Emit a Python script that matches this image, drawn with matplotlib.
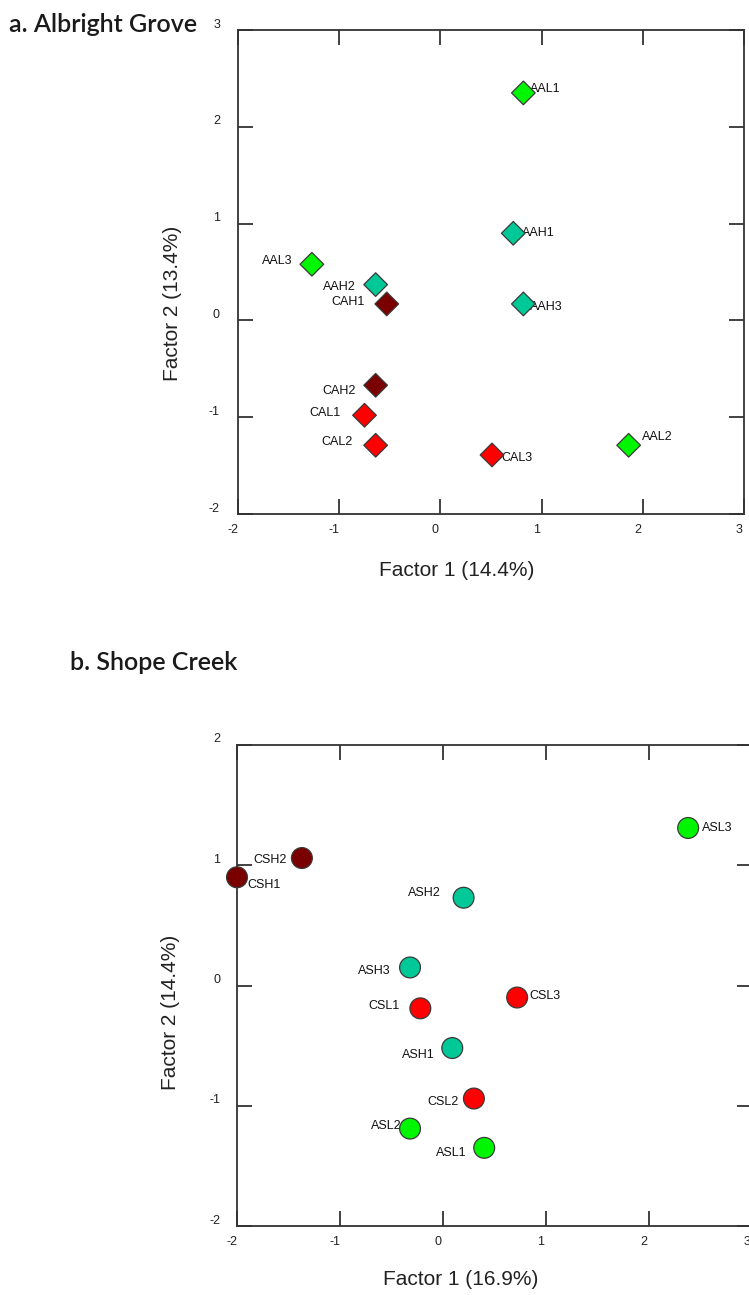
import matplotlib
matplotlib.use("Agg")
import matplotlib.pyplot as plt
import matplotlib.transforms as mtransforms

plt.rcParams["font.family"] = ["Liberation Sans", "DejaVu Sans"]

W, H, DPI = 749, 1295, 100

# ---- Panel a: Albright Grove (factor scores) ----
ag_names = ["AAL1", "AAH1", "AAL3", "AAH2", "CAH1", "AAH3",
            "CAH2", "CAL1", "CAL2", "CAL3", "AAL2"]
ag_f1 = [0.82, 0.72, -1.27, -0.64, -0.53, 0.82, -0.64, -0.75, -0.64, 0.51, 1.86]
ag_f2 = [2.35, 0.90, 0.58, 0.37, 0.17, 0.17, -0.67, -0.98, -1.29, -1.39, -1.29]
ag_group = ["AL", "AH", "AL", "AH", "CH", "AH", "CH", "CL", "CL", "CL", "AL"]

# ---- Panel b: Shope Creek (factor scores) ----
sc_names = ["ASL3", "CSH2", "CSH1", "ASH2", "ASH3", "CSL1",
            "CSL3", "ASH1", "CSL2", "ASL2", "ASL1"]
sc_f1 = [2.38, -1.37, -2.00, 0.20, -0.32, -0.22, 0.72, 0.09, 0.30, -0.32, 0.40]
sc_f2 = [1.31, 1.06, 0.90, 0.73, 0.15, -0.19, -0.10, -0.52, -0.94, -1.19, -1.35]
sc_group = ["AL", "CH", "CH", "AH", "AH", "CL", "CL", "AH", "CL", "AL", "AL"]

tick_vals_x = [-2, -1, 0, 1, 2, 3]
ag_ticks_y = [-2, -1, 0, 1, 2, 3]
sc_ticks_y = [-2, -1, 0, 1, 2]

group_colors = {"AL": "#00F500", "AH": "#00C896", "CH": "#7A0000", "CL": "#FF0000"}

# label placement: (horizontal alignment, dx px, dy px)
ag_label_pos = {
    "AAL1": ("left", 7, 4), "AAH1": ("left", 9, 0), "AAL3": ("right", -19, 3),
    "AAH2": ("right", -20, -2), "CAH1": ("right", -22, 2), "AAH3": ("left", 7, -3),
    "CAH2": ("right", -20, -6), "CAL1": ("right", -24, 2), "CAL2": ("right", -23, 3),
    "CAL3": ("left", 9, -3), "AAL2": ("left", 13, 8),
}
sc_label_pos = {
    "ASL3": ("left", 14, 0), "CSH2": ("right", -15, -2), "CSH1": ("left", 10, -8),
    "ASH2": ("right", -23, 5), "ASH3": ("right", -19, -4), "CSL1": ("right", -21, 2),
    "CSL3": ("left", 12, 2), "ASH1": ("right", -18, -7), "CSL2": ("right", -15, -3),
    "ASL2": ("right", -8, 3), "ASL1": ("right", -18, -5),
}

fig = plt.figure(figsize=(W / DPI, H / DPI), dpi=DPI)


def px_axes(left, top, right, bottom):
    return fig.add_axes([left / W, 1 - bottom / H, (right - left) / W, (bottom - top) / H])


def style_axes(ax, xt, yt, xlim, ylim, ylab_dx):
    ax.set_xlim(*xlim)
    ax.set_ylim(*ylim)
    ax.set_xticks(xt)
    ax.set_yticks(yt)
    ax.set_xticklabels([str(v) for v in xt])
    ax.set_yticklabels([str(v) for v in yt])
    ax.tick_params(direction="in", length=11, width=1.3, color="#333333",
                   top=True, right=True, labelsize=9, labelcolor="#222222")
    ax.tick_params(axis="x", pad=7)
    ax.tick_params(axis="y", pad=ylab_dx)
    for sp in ax.spines.values():
        sp.set_linewidth(1.3)
        sp.set_color("#333333")
    offx = mtransforms.ScaledTranslation(-0.05, 0, fig.dpi_scale_trans)
    offy = mtransforms.ScaledTranslation(0, 0.07, fig.dpi_scale_trans)
    for t in ax.xaxis.get_major_ticks():
        t.label1.set_transform(t.label1.get_transform() + offx)
    for t in ax.yaxis.get_major_ticks():
        t.label1.set_transform(t.label1.get_transform() + offy)


def draw_points(ax, names, xs, ys, groups, marker, size, label_pos):
    cols = [group_colors[g] for g in groups]
    ax.scatter(xs, ys, s=size, marker=marker, c=cols, edgecolors="#3a3a3a",
               linewidths=0.9, zorder=3, clip_on=False)
    for n, x, y in zip(names, xs, ys):
        ha, dx, dy = label_pos[n]
        ax.annotate(n, (x, y), xytext=(dx * 0.72, dy * 0.72), textcoords="offset points",
                    ha=ha, va="center", fontsize=9, color="#111111", zorder=2)


# Panel a
ax1 = px_axes(238, 30, 744, 514)
style_axes(ax1, tick_vals_x, ag_ticks_y, (-2, 3), (-2, 3), 13)
draw_points(ax1, ag_names, ag_f1, ag_f2, ag_group, "D", 145, ag_label_pos)
ax1.set_xlabel("Factor 1 (14.4%)", fontsize=15, color="#222222", va="center")
ax1.xaxis.set_label_coords(0.433, -0.116)
ax1.set_ylabel("Factor 2 (13.4%)", fontsize=15, color="#222222", va="center")
ax1.yaxis.set_label_coords(-0.130, 0.435)

# Panel b
ax2 = px_axes(237, 745, 752, 1226)
style_axes(ax2, tick_vals_x, sc_ticks_y, (-2, 3), (-2, 2), 12)
draw_points(ax2, sc_names, sc_f1, sc_f2, sc_group, "o", 225, sc_label_pos)
ax2.set_xlabel("Factor 1 (16.9%)", fontsize=15, color="#222222", va="center")
ax2.xaxis.set_label_coords(0.434, -0.112)
ax2.set_ylabel("Factor 2 (14.4%)", fontsize=15, color="#222222", va="center")
ax2.yaxis.set_label_coords(-0.130, 0.445)

# Panel titles
title_kw = dict(fontsize=18, family=["Lato", "DejaVu Sans"], weight="semibold",
                color="#1a1a1a", ha="left", va="center")
fig.text(9 / W, 1 - 25 / H, "a. Albright Grove", **title_kw)
fig.text(70 / W, 1 - 662 / H, "b. Shope Creek", **title_kw)

fig.savefig("out.png", dpi=DPI)
